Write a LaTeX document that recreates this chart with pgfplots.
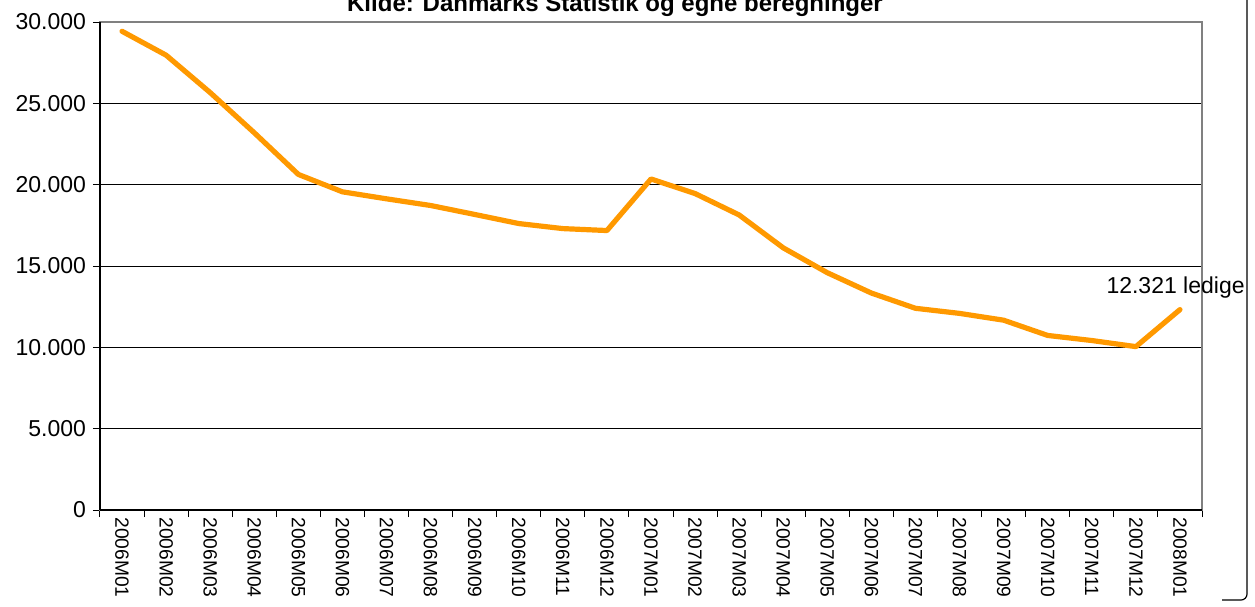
\documentclass[border=0pt]{standalone}
\usepackage{pgfplots}
\pgfplotsset{compat=1.18}
\usepackage{fontspec}
\setmainfont{Liberation Sans}
\definecolor{lineorange}{RGB}{255,153,0}
\definecolor{framegray}{RGB}{128,128,128}
\begin{document}
\begin{tikzpicture}
\begin{axis}[
  name=ax,
  scale only axis,
  width=551pt, height=244pt,
  xmin=-0.5, xmax=24.5,
  ymin=0, ymax=30000,
  xtick={0,...,24},
  xticklabels={2006M01,2006M02,2006M03,2006M04,2006M05,2006M06,2006M07,2006M08,2006M09,2006M10,2006M11,2006M12,2007M01,2007M02,2007M03,2007M04,2007M05,2007M06,2007M07,2007M08,2007M09,2007M10,2007M11,2007M12,2008M01},
  x tick label style={rotate=-90, anchor=west, font=\fontsize{9.6}{11}\selectfont, inner sep=0pt},
  xticklabel shift=0pt,
  major x tick style={draw=none},
  minor xtick={-0.5,0.5,...,24.5},
  minor tick length=3.5pt,
  ytick={0,5000,10000,15000,20000,25000,30000},
  yticklabels={0,5.000,10.000,15.000,20.000,25.000,30.000},
  y tick label style={font=\fontsize{11.5}{13}\selectfont},
  scaled y ticks=false,
  major tick length=3.5pt,
  tick align=outside,
  xtick pos=bottom, ytick pos=left,
  ymajorgrids,
  grid style={black, line width=0.5pt},
  axis line style={framegray, line width=0.8pt},
  tick style={black, line width=0.5pt},
  clip=false,
]
\addplot[lineorange, line width=2.6pt, line join=round, line cap=round] coordinates {
(0,29430) (1,27960) (2,25660) (3,23190) (4,20630) (5,19560) (6,19130) (7,18720)
(8,18170) (9,17610) (10,17300) (11,17180) (12,20350) (13,19454) (14,18137)
(15,16117) (16,14587) (17,13337) (18,12400) (19,12087) (20,11669) (21,10731)
(22,10419) (23,10044) (24,12321)
};
\draw[black, line width=0.6pt] (rel axis cs:0,0) -- (rel axis cs:0,1);
\draw[black, line width=0.6pt] (rel axis cs:0,0) -- (rel axis cs:1,0);
\node[anchor=base, font=\fontsize{11.5}{13}\selectfont, inner sep=0pt] at ([yshift=8pt]axis cs:23.9,12321) {12.321 ledige};
\end{axis}
\node[anchor=base, font=\bfseries\fontsize{12}{14}\selectfont, inner sep=0pt] at ([xshift=257.5pt, yshift=5.5pt]ax.north west) {Kilde: Danmarks Statistik og egne beregninger};
\draw[black, line width=0.6pt, rounded corners=3pt] ([xshift=22.5pt, yshift=20pt]ax.north east) -- ([xshift=22.5pt, yshift=-45pt]ax.south east) -- ([xshift=10pt, yshift=-45pt]ax.south east);
\pgfresetboundingbox
\useasboundingbox ([xshift=-50pt, yshift=-48pt]ax.south west) rectangle ([xshift=26.5pt, yshift=11pt]ax.north east);
\end{tikzpicture}
\end{document}
